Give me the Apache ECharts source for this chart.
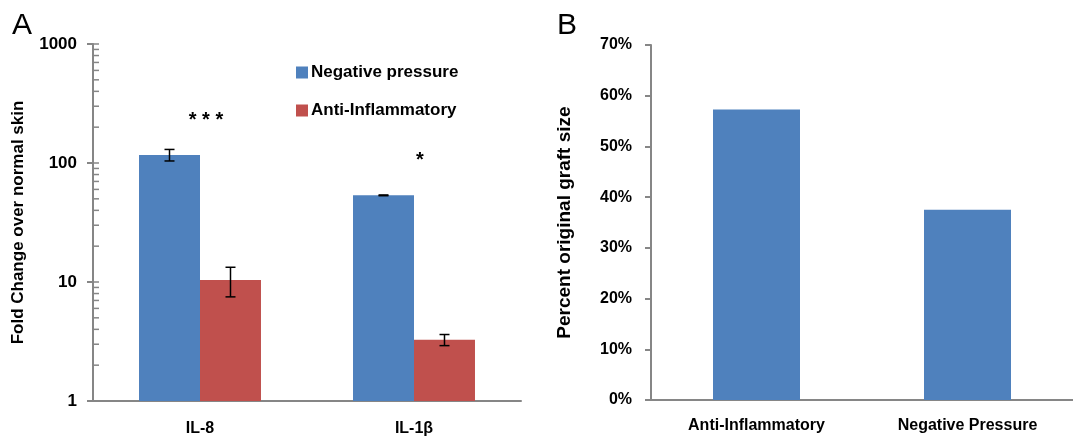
<!DOCTYPE html>
<html>
<head>
<meta charset="utf-8">
<script src="https://cdn.jsdelivr.net/npm/echarts@6/dist/echarts.min.js"></script>
<style>
  html, body { margin: 0; padding: 0; background: #fff; }
  #chart { width: 1073px; height: 437px; }
</style>
</head>
<body>
<div id="chart"></div>
<script>
// ---- Data (panel A) ----
const categoriesA = ['IL-8', 'IL-1β'];
const negPressure = [117, 53.5];
const negPressureErr = [13, 0.4];
const antiInfl = [10.4, 3.27];
const antiInflErr = [2.9, 0.35];
const starLabels = ['* * *', '*'];
const starValues = [230, 108];
const logTickValues = [1,2,3,4,5,6,7,8,9,10,20,30,40,50,60,70,80,90,100,200,300,400,500,600,700,800,900,1000];
// ---- Data (panel B) ----
const categoriesB = ['Anti-Inflammatory', 'Negative Pressure'];
const graftSize = [0.573, 0.375];

const FONT = '"Liberation Sans", Arial, sans-serif';
const AXIS_COLOR = '#868686';
const BLUE = '#4F81BD';
const RED = '#C0504D';
const GAP = 0.43;

function errRender(sign) {
  return function (params, api) {
    const ci = api.value(0), v = api.value(1), e = api.value(2);
    const band = api.size([1, 0])[0];
    const off = sign * band * (1 - GAP) / 4;
    const x = api.coord([ci, v])[0] + off;
    const yT = api.coord([ci, v + e])[1];
    const yB = api.coord([ci, v - e])[1];
    const c = 5;
    const st = { stroke: '#000', lineWidth: 1.5 };
    return { type: 'group', children: [
      { type: 'line', shape: { x1: x, y1: yT, x2: x, y2: yB }, style: st },
      { type: 'line', shape: { x1: x - c, y1: yT, x2: x + c, y2: yT }, style: st },
      { type: 'line', shape: { x1: x - c, y1: yB, x2: x + c, y2: yB }, style: st }
    ]};
  };
}

const chart = echarts.init(document.getElementById('chart'), null, { renderer: 'canvas' });
chart.setOption({
  animation: false,
  backgroundColor: '#fff',
  textStyle: { fontFamily: FONT },
  title: [
    { text: 'A', left: 7, top: 6, textStyle: { fontFamily: FONT, fontSize: 30, fontWeight: 'normal', color: '#000' } },
    { text: 'B', left: 552, top: 6, textStyle: { fontFamily: FONT, fontSize: 30, fontWeight: 'normal', color: '#000' } }
  ],
  legend: {
    data: ['Negative pressure', 'Anti-Inflammatory'],
    orient: 'vertical', left: 296, top: 64, padding: 0, itemWidth: 12, itemHeight: 12, itemGap: 21,
    icon: 'rect',
    textStyle: { fontFamily: FONT, fontSize: 17, fontWeight: 'bold', color: '#000', padding: [0, 0, 0, -2] }
  },
  grid: [
    { left: 93, right: 552, top: 44, bottom: 34 },
    { left: 651, right: -11, top: 45, bottom: 37 }
  ],
  xAxis: [
    { type: 'category', gridIndex: 0, data: categoriesA,
      axisLine: { lineStyle: { color: AXIS_COLOR, width: 2 } },
      axisTick: { length: 6, lineStyle: { color: AXIS_COLOR, width: 2 } },
      axisLabel: { margin: 20, fontFamily: FONT, fontSize: 16, fontWeight: 'bold', color: '#000' } },
    { type: 'category', gridIndex: 1, data: categoriesB,
      axisLine: { lineStyle: { color: AXIS_COLOR, width: 2 } },
      axisTick: { length: 6, lineStyle: { color: AXIS_COLOR, width: 2 } },
      axisLabel: { margin: 18, fontFamily: FONT, fontSize: 16, fontWeight: 'bold', color: '#000' } }
  ],
  yAxis: [
    { type: 'log', gridIndex: 0, logBase: 10, min: 1, max: 1000,
      name: 'Fold Change over normal skin', nameLocation: 'middle', nameGap: 66,
      nameTextStyle: { fontFamily: FONT, fontSize: 17, fontWeight: 'bold', color: '#000' },
      axisLine: { show: true, lineStyle: { color: AXIS_COLOR, width: 2 } },
      axisTick: { show: true, length: 6, lineStyle: { color: AXIS_COLOR, width: 2 } },
      splitLine: { show: false },
      axisLabel: { margin: 16, fontFamily: FONT, fontSize: 17, fontWeight: 'bold', color: '#000',
        formatter: v => String(Math.round(v)) } },
    { type: 'value', gridIndex: 1, min: 0, max: 0.7, interval: 0.1,
      name: 'Percent original graft size', nameLocation: 'middle', nameGap: 77,
      nameTextStyle: { fontFamily: FONT, fontSize: 19, fontWeight: 'bold', color: '#000' },
      axisLine: { show: true, lineStyle: { color: AXIS_COLOR, width: 2 } },
      axisTick: { show: true, length: 6, lineStyle: { color: AXIS_COLOR, width: 2 } },
      splitLine: { show: false },
      axisLabel: { margin: 19, fontFamily: FONT, fontSize: 16, fontWeight: 'bold', color: '#000',
        formatter: v => Math.round(v * 100) + '%' } }
  ],
  series: [
    { name: 'Negative pressure', type: 'bar', xAxisIndex: 0, yAxisIndex: 0, data: negPressure,
      barGap: '0%', barCategoryGap: (GAP * 100) + '%', itemStyle: { color: BLUE } },
    { name: 'Anti-Inflammatory', type: 'bar', xAxisIndex: 0, yAxisIndex: 0, data: antiInfl,
      barGap: '0%', barCategoryGap: (GAP * 100) + '%', itemStyle: { color: RED } },
    { name: 'errNP', type: 'custom', xAxisIndex: 0, yAxisIndex: 0, z: 5,
      data: negPressure.map((v, i) => [i, v, negPressureErr[i]]), renderItem: errRender(-1) },
    { name: 'errAI', type: 'custom', xAxisIndex: 0, yAxisIndex: 0, z: 5,
      data: antiInfl.map((v, i) => [i, v, antiInflErr[i]]), renderItem: errRender(1) },
    { name: 'stars', type: 'custom', xAxisIndex: 0, yAxisIndex: 0, z: 5,
      data: starValues.map((v, i) => [i, v]),
      renderItem: function (params, api) {
        const p = api.coord([api.value(0), api.value(1)]);
        return { type: 'text', x: p[0] + 6, y: p[1] + 1,
          style: { text: starLabels[params.dataIndex], fill: '#000', font: 'bold 20px ' + FONT,
            textAlign: 'center', textVerticalAlign: 'middle' } };
      } },
    { name: 'minorTicks', type: 'custom', xAxisIndex: 0, yAxisIndex: 0, z: 4, clip: false,
      data: logTickValues.map(v => [0, v]),
      renderItem: function (params, api) {
        const y = api.coord([0, api.value(1)])[1];
        const x0 = params.coordSys.x;
        return { type: 'line', shape: { x1: x0, y1: y, x2: x0 + 6, y2: y },
          style: { stroke: AXIS_COLOR, lineWidth: 1.5 } };
      } },
    { name: 'Graft size', type: 'bar', xAxisIndex: 1, yAxisIndex: 1, data: graftSize,
      barWidth: 87, itemStyle: { color: BLUE } }
  ]
});
</script>
</body>
</html>
